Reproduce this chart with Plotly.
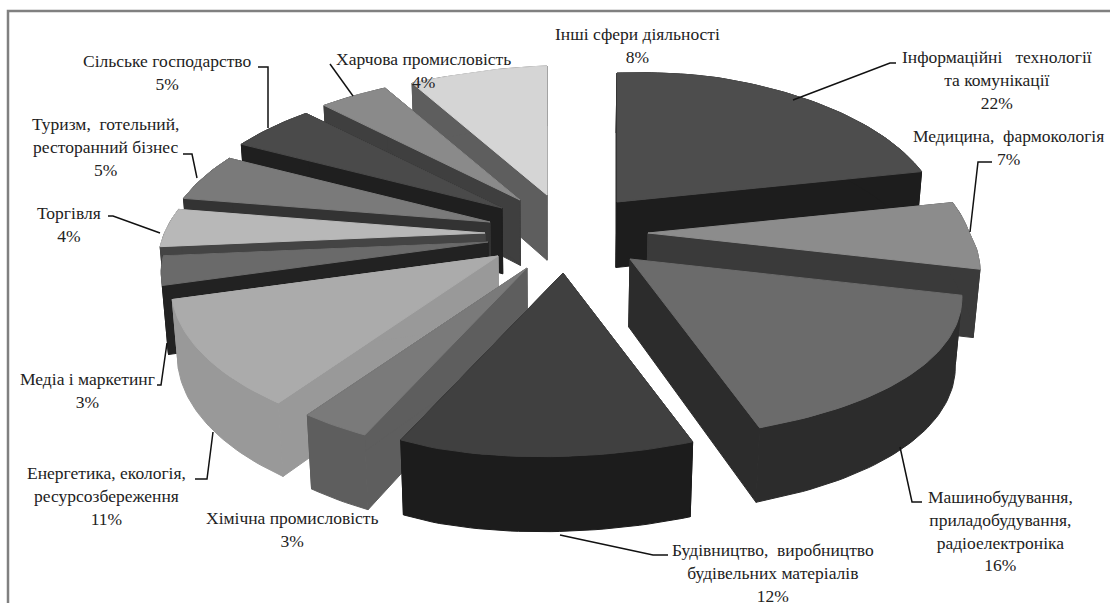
import numpy as np
import plotly.graph_objects as go

categories = [
    "Інформаційні\u00a0\u00a0\u00a0технології<br>та комунікації",
    "Медицина,\u00a0\u00a0фармокологія",
    "Машинобудування,<br>приладобудування,<br>радіоелектроніка",
    "Будівництво,\u00a0\u00a0виробництво<br>будівельних матеріалів",
    "Хімічна промисловість",
    "Енергетика, екологія,<br>ресурсозбереження",
    "Медіа і маркетинг",
    "Торгівля",
    "Туризм,\u00a0\u00a0готельний,<br>ресторанний бізнес",
    "Сільське господарство",
    "Харчова промисловість",
    "Інші сфери діяльності",
]
values = [22, 7, 16, 12, 3, 11, 3, 4, 5, 5, 4, 8]

# styling / layout of the exploded pseudo-3D pie
top_colors = ["#4d4d4d", "#8c8c8c", "#6b6b6b", "#404040", "#7a7a7a", "#ababab",
              "#6a6a6a", "#b8b8b8", "#7a7a7a", "#4a4a4a", "#8a8a8a", "#d5d5d5"]
side_colors = ["#1d1d1d", "#3a3a3a", "#2c2c2c", "#1c1c1c", "#5e5e5e", "#999999",
               "#222222", "#444444", "#333333", "#1f1f1f", "#3f3f3f", "#5e5e5e"]
apex_x = [617, 648, 630, 563, 527, 498, 488, 485, 490, 502, 520, 547]
apex_y = [202, 233, 259, 273, 268, 256, 242, 233, 222, 208, 200, 195]
draw_order = [11, 0, 10, 9, 8, 7, 6, 1, 5, 4, 2, 3]
label_x = [997, 1008, 1000, 773, 292, 106, 87, 69, 105, 167, 423, 637]
label_y = [80, 147, 531, 573, 529, 496, 390, 224, 147, 72, 70, 45]
leaders = [
    ([793, 890, 896], [100, 63, 63]),
    ([970, 978, 992], [232, 162, 162]),
    ([900, 912, 922], [447, 502, 502]),
    ([560, 653, 668], [535, 555, 555]),
    ([213, 207, 195], [432, 479, 479]),
    ([167, 161, 157], [343, 385, 385]),
    ([160, 113, 108], [233, 216, 216]),
    ([197, 192, 183], [178, 154, 154]),
    ([268, 268, 258], [128, 67, 67]),
    ([353, 330], [96, 64]),
]
RX, RY, PERSP = 322.0, 151.5, 0.171


def rim(theta):
    c = np.cos(theta)
    sn = np.sin(theta)
    s = 1 + PERSP * c
    a = np.where(sn > 0, RX - 2 + 33 * np.maximum(-c, 0), RX)
    shift = 0.5 - 3.5 * np.clip(sn * 3, -1, 1)
    return a * sn / s, (shift - RY * c) / s


def drop(x, y):
    d = np.interp(y, [75, 260, 440], [60, 68, 75])
    return x + d * (550 - x) / 4270, y + d


fig = go.Figure()


def poly(xs, ys, color):
    fig.add_trace(go.Scatter(
        x=list(xs) + [xs[0]], y=list(ys) + [ys[0]], mode="lines", fill="toself",
        fillcolor=color, line=dict(color=color, width=1),
        hoverinfo="skip", showlegend=False))


edges = np.cumsum([0] + values) / sum(values) * 2 * np.pi
for i in draw_order:
    t = np.linspace(edges[i], edges[i + 1], max(4, values[i] * 3))
    dx, dy = rim(t)
    ax, ay = float(apex_x[i]), float(apex_y[i])
    ox, oy = ax + dx, ay + dy
    bx, by = drop(ox, oy)
    abx, aby = drop(ax, ay)
    side = side_colors[i]
    poly([ax, ox[0], bx[0], abx], [ay, oy[0], by[0], aby], side)
    poly([ax, ox[-1], bx[-1], abx], [ay, oy[-1], by[-1], aby], side)
    poly(np.r_[ox, bx[::-1]], np.r_[oy, by[::-1]], side)
    poly(np.r_[ax, ox], np.r_[ay, oy], top_colors[i])

for lx, ly in leaders:
    fig.add_trace(go.Scatter(x=lx, y=ly, mode="lines", line=dict(color="#111111", width=1.5),
                             hoverinfo="skip", showlegend=False))

for name, v, x, y in zip(categories, values, label_x, label_y):
    fig.add_annotation(x=x, y=y, text=f"{name}<br>{v}%", showarrow=False, xanchor="center",
                       yanchor="middle", align="center",
                       font=dict(family="Liberation Serif", size=17.5, color="#222222"))

# frame of the chart area (only the top and left edges fall inside the picture)
fig.add_shape(type="rect", x0=8, y0=11, x1=1300, y1=800, line=dict(color="#808080", width=2.5),
              fillcolor="rgba(0,0,0,0)", layer="below")

fig.update_layout(
    width=1110, height=603, margin=dict(l=0, r=0, t=0, b=0),
    paper_bgcolor="white", plot_bgcolor="white", showlegend=False,
    xaxis=dict(range=[0, 1110], visible=False, fixedrange=True),
    yaxis=dict(range=[603, 0], visible=False, fixedrange=True),
)
fig.write_html("out.html", config={"displayModeBar": False},
               post_script="document.body.style.margin='0';document.body.style.overflow='hidden';")
